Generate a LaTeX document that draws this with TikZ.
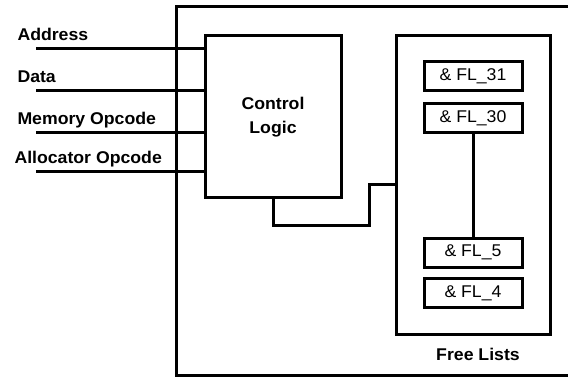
\documentclass[tikz,border=0pt]{standalone}
\usepackage{fontspec}
\setmainfont[FakeStretch=1.04]{Liberation Sans}

\begin{document}
\begin{tikzpicture}[x=1pt, y=-1pt, line width=3pt,
	box/.style={draw, rectangle, inner sep=0pt},
	flbox/.style={draw, rectangle, inner sep=0pt, minimum width=98pt, minimum height=29pt, font=\fontsize{17}{20}\selectfont},
	lbl/.style={anchor=base west, inner sep=0pt, font=\bfseries\fontsize{17}{20}\selectfont}]
\useasboundingbox (0,0) rectangle (568,377);
\clip (0,0) rectangle (568,377);

% outer frame
\draw (176,7) rectangle (590,375);

% control logic
\node[box, minimum width=136pt, minimum height=162pt, align=center, font=\bfseries\fontsize{17}{24}\selectfont] (ctrl) at (273,117) {Control\\Logic};

% free lists
\node[box, minimum width=154pt, minimum height=298pt] (lists) at (473,185) {};
\node[flbox] (fl31) at (473,76.5) {\& FL\_31};
\node[flbox] (fl30) at (473,118.5) {\& FL\_30};
\node[flbox] (fl5) at (473,252.5) {\& FL\_5};
\node[flbox] (fl4) at (473,293) {\& FL\_4};
\draw (fl30.south) -- (fl5.north);
\node[inner sep=0pt, anchor=base, font=\bfseries\fontsize{17}{20}\selectfont] (listslbl) at (478,360) {Free Lists};

% inputs
\foreach \name/\txt/\y/\x in {addr/Address/49/16, data/Data/91/16, memop/Memory Opcode/133/16, allocop/Allocator Opcode/172/13}{
	\coordinate (\name) at (36,\y);
	\draw (\name) -- (\name -| ctrl.west);
	\node[lbl] (\name lbl) at (\x,\y - 8.5) {\txt};
}

% link from control logic to free lists
\coordinate (jog) at (369,185);
\draw (ctrl.south) -- ++(0,26) -| (jog) -- (jog -| lists.west);

\end{tikzpicture}
\end{document}
